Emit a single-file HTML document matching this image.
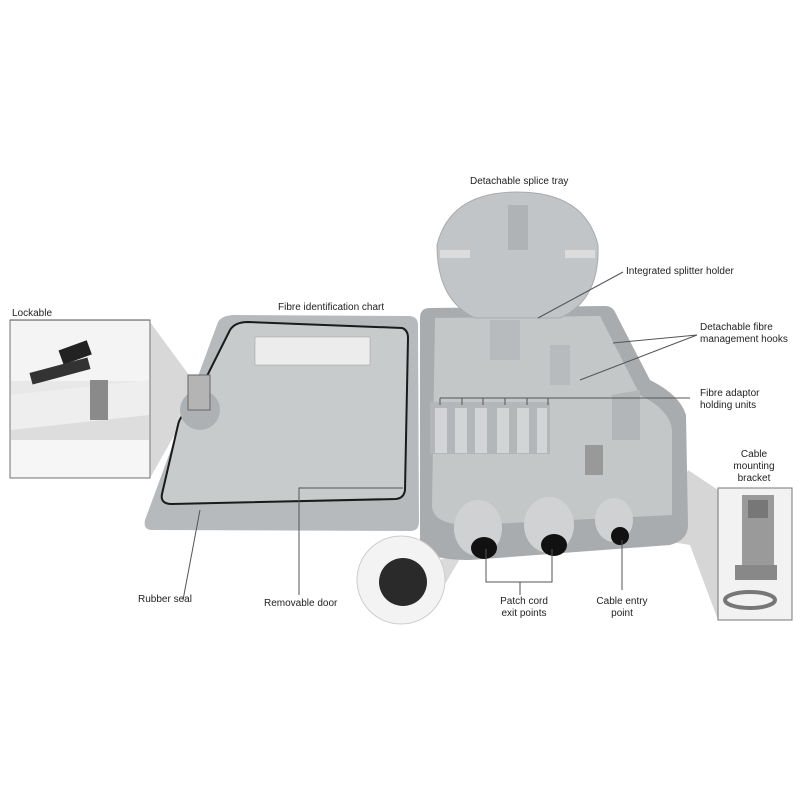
<!DOCTYPE html>
<html><head><style>
body{margin:0;background:#fff;}
svg text{font-family:"Liberation Sans",sans-serif;font-size:10px;fill:#222;}
</style></head><body>
<svg width="800" height="800" viewBox="0 0 800 800" xmlns="http://www.w3.org/2000/svg">
<rect width="800" height="800" fill="#fff"/>
<!-- shadow wedges -->
<polygon points="150,322 150,478 200,390" fill="#d8d8d8"/>
<polygon points="688,470 718,490 718,620 690,545 660,540" fill="#d6d6d6"/>
<polygon points="440,560 465,550 430,610" fill="#dadada"/>
<!-- lockable inset -->
<rect x="10" y="320" width="140" height="158" fill="#e8e8e8" stroke="#777" stroke-width="1"/>
<rect x="11" y="321" width="138" height="60" fill="#f4f4f4"/>
<polygon points="11,395 149,380 149,420 11,430" fill="#eee"/>
<polygon points="11,430 149,415 149,450 11,470" fill="#ddd"/>
<rect x="11" y="440" width="138" height="37" fill="#f6f6f6"/>
<rect x="90" y="380" width="18" height="40" fill="#8a8a8a"/>
<rect x="60" y="345" width="30" height="15" fill="#222" transform="rotate(-20 75 352)"/>
<rect x="30" y="365" width="60" height="12" fill="#333" transform="rotate(-15 60 371)"/>
<!-- bracket inset -->
<rect x="718" y="488" width="74" height="132" fill="#f2f2f2" stroke="#777" stroke-width="1"/>
<rect x="742" y="495" width="32" height="70" fill="#9a9a9a"/>
<rect x="748" y="500" width="20" height="18" fill="#777"/>
<rect x="735" y="565" width="42" height="15" fill="#888"/>
<ellipse cx="750" cy="600" rx="25" ry="8" fill="none" stroke="#777" stroke-width="4"/>
<!-- door -->
<path d="M235,315 L410,316 Q418,317 418,325 L419,522 Q419,531 410,531 L152,530 Q143,530 145,520 L218,322 Q222,315 235,315 Z" fill="#b7babc"/>
<path d="M248,322 L402,328 Q408,330 408,338 L405,490 Q404,498 396,499 L172,504 Q160,504 162,494 L178,425 Q180,415 190,410 L230,330 Q235,322 248,322 Z" fill="#c8cbcc" stroke="#1a1a1a" stroke-width="2"/>
<rect x="255" y="337" width="115" height="28" fill="#ececec" stroke="#999" stroke-width="0.5"/>
<circle cx="200" cy="410" r="20" fill="#aeb1b3"/>
<rect x="188" y="375" width="22" height="35" fill="#b4b4b4" stroke="#666"/>
<!-- box -->
<path d="M430,308 L605,306 Q613,306 616,314 L650,380 Q680,395 686,415 L688,525 Q688,540 670,545 L470,560 Q425,560 420,545 L420,318 Q420,308 430,308 Z" fill="#a8acae"/>
<path d="M435,318 L600,316 L640,395 Q670,410 672,430 L672,515 L470,525 Q432,525 432,505 Z" fill="#c4c7c8"/>
<rect x="430" y="402" width="120" height="52" fill="#b4b7b9"/>
<g fill="#d2d4d5"><rect x="435" y="408" width="12" height="45"/><rect x="455" y="408" width="12" height="45"/><rect x="475" y="408" width="12" height="45"/><rect x="497" y="408" width="12" height="45"/><rect x="517" y="408" width="12" height="45"/><rect x="537" y="408" width="10" height="45"/></g>
<rect x="490" y="320" width="30" height="40" fill="#b8bbbd"/>
<rect x="550" y="345" width="20" height="40" fill="#b8bbbd"/>
<path d="M612,395 L640,390 L640,440 L612,440 Z" fill="#b3b6b8"/>
<rect x="585" y="445" width="18" height="30" fill="#999"/>
<!-- glands -->
<ellipse cx="478" cy="528" rx="24" ry="28" fill="#cfd1d2"/><ellipse cx="484" cy="548" rx="13" ry="11" fill="#111"/>
<ellipse cx="549" cy="525" rx="25" ry="28" fill="#d0d2d3"/><ellipse cx="554" cy="545" rx="13" ry="11" fill="#111"/>
<ellipse cx="614" cy="520" rx="19" ry="22" fill="#cfd1d2"/><ellipse cx="620" cy="536" rx="9" ry="9" fill="#111"/>
<!-- splice tray -->
<path d="M517,192 Q585,192 598,245 Q600,300 560,318 L475,318 Q437,300 437,245 Q450,192 517,192 Z" fill="#c2c5c7" stroke="#a8abad"/>
<rect x="508" y="205" width="20" height="45" fill="#b0b3b5"/>
<rect x="440" y="250" width="30" height="8" fill="#dcdcdc"/>
<rect x="565" y="250" width="30" height="8" fill="#dcdcdc"/>
<!-- puck -->
<circle cx="401" cy="580" r="44" fill="#f3f3f3" stroke="#ccc"/>
<circle cx="403" cy="582" r="24" fill="#2a2a2a"/>
<!-- leader lines -->
<g stroke="#555" stroke-width="1" fill="none">
<path d="M10,320 L150,320"/>
<path d="M538,318 L623,272"/>
<path d="M613,343 L697,335 M580,380 L697,335"/>
<path d="M440,398 L690,398 M440,398 L440,405 M462,398 L462,405 M483,398 L483,405 M505,398 L505,405 M527,398 L527,405 M548,398 L548,405"/>
<path d="M183,600 L200,510"/>
<path d="M299,595 L299,488 L403,488"/>
<path d="M486,549 L486,582 L552,582 L552,549 M520,582 L520,595"/>
<path d="M622,540 L622,590"/>
</g>
<!-- labels -->
<text x="470" y="184">Detachable splice tray</text>
<text x="626" y="274">Integrated splitter holder</text>
<text x="700" y="330">Detachable fibre</text>
<text x="700" y="342">management hooks</text>
<text x="700" y="396">Fibre adaptor</text>
<text x="700" y="408">holding units</text>
<text x="754" y="457" text-anchor="middle">Cable</text>
<text x="754" y="469" text-anchor="middle">mounting</text>
<text x="754" y="481" text-anchor="middle">bracket</text>
<text x="12" y="316">Lockable</text>
<text x="278" y="310">Fibre identification chart</text>
<text x="138" y="602">Rubber seal</text>
<text x="264" y="606">Removable door</text>
<text x="524" y="604" text-anchor="middle">Patch cord</text>
<text x="524" y="616" text-anchor="middle">exit points</text>
<text x="622" y="604" text-anchor="middle">Cable entry</text>
<text x="622" y="616" text-anchor="middle">point</text>
</svg>
</body></html>
